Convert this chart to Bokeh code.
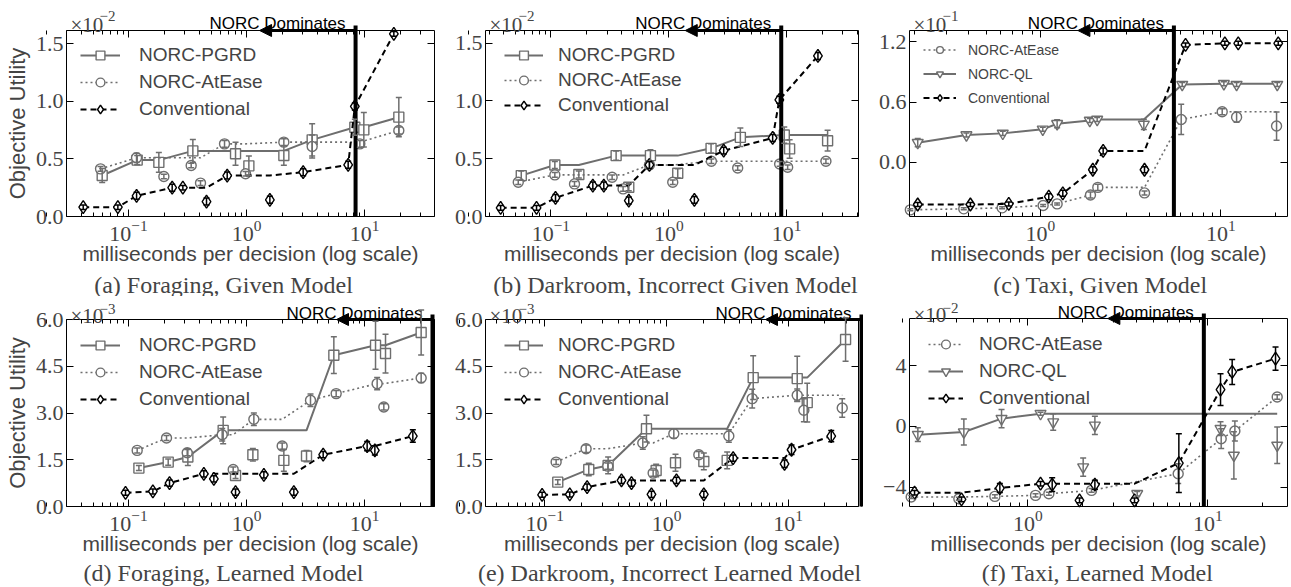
import numpy as np
from bokeh.plotting import figure
from bokeh.models import (LogAxis, LinearAxis, FixedTicker, Legend, LegendItem, Whisker, TeeHead,
                          ColumnDataSource, Arrow, NormalHead, Label, Range1d, CustomJSTickFormatter)
from bokeh.layouts import column, row
from bokeh.embed import file_html
from bokeh.resources import INLINE

# ---------------- tick values / labels ----------------
x_major_ticks = [0.1, 1, 10]
x_minor_ticks = [m * 10.0 ** e for e in range(-2, 2) for m in range(2, 10)]

a_yticks = [0.0, 0.5, 1.0, 1.5]
a_ylabels = ["0.0", "0.5", "1.0", "1.5"]
b_yticks = [0.0, 0.5, 1.0, 1.5]
b_ylabels = ["0.0", "0.5", "1.0", "1.5"]
c_yticks = [0.0, 0.6, 1.2]
c_ylabels = ["0.0", "0.6", "1.2"]
d_yticks = [0.0, 1.5, 3.0, 4.5, 6.0]
d_ylabels = ["0.0", "1.5", "3.0", "4.5", "6.0"]
e_yticks = [0.0, 1.5, 3.0, 4.5, 6.0]
e_ylabels = ["0.0", "1.5", "3.0", "4.5", "6.0"]
f_yticks = [-4, 0, 4]
f_ylabels = ["\u22124", "0", "4"]

# ---------------- (a) Foraging, Given Model  (x 10^-2) ----------------
a_pgrd_ms = [0.0598, 0.1184, 0.1807, 0.3509, 0.807, 1.047, 2.072, 3.601, 8.28, 9.87, 19.54]
a_pgrd_val = [0.356, 0.49, 0.47, 0.57, 0.545, 0.44, 0.53, 0.666, 0.776, 0.753, 0.863]
a_pgrd_err = [0.06, 0.04, 0.085, 0.10, 0.10, 0.085, 0.085, 0.14, 0.07, 0.15, 0.17]
a_atease_ms = [0.0579, 0.1169, 0.1993, 0.3396, 0.4074, 0.651, 0.981, 2.072, 3.601, 9.13, 19.54]
a_atease_val = [0.414, 0.51, 0.348, 0.443, 0.29, 0.631, 0.371, 0.646, 0.608, 0.631, 0.747]
a_atease_err = [0.02, 0.04, 0.02, 0.02, 0.02, 0.03, 0.02, 0.03, 0.10, 0.03, 0.03]
a_conv_ms = [0.0413, 0.0812, 0.117, 0.2344, 0.2887, 0.458, 0.686, 1.577, 3.021, 7.27, 8.28, 17.73]
a_conv_val = [0.081, 0.081, 0.18, 0.25, 0.25, 0.13, 0.356, 0.145, 0.385, 0.449, 0.956, 1.587]
a_conv_err = [0.02, 0.02, 0.03, 0.03, 0.02, 0.03, 0.03, 0.03, 0.03, 0.03, 0.03, 0.02]
a_dominates_ms = 8.4

# ---------------- (b) Darkroom, Incorrect Given Model  (x 10^-2) ----------------
b_pgrd_ms = [0.0561, 0.1081, 0.1727, 0.3578, 0.4581, 0.6993, 1.192, 2.285, 4.05, 9.55, 10.6, 22.26]
b_pgrd_val = [0.354, 0.446, 0.363, 0.527, 0.253, 0.527, 0.374, 0.59, 0.685, 0.705, 0.585, 0.656]
b_pgrd_err = [0.04, 0.03, 0.03, 0.04, 0.03, 0.05, 0.04, 0.04, 0.08, 0.07, 0.08, 0.09]
b_atease_ms = [0.0529, 0.1081, 0.1587, 0.331, 0.41, 0.6858, 1.081, 2.30, 3.844, 8.724, 10.2, 21.54]
b_atease_val = [0.297, 0.36, 0.282, 0.34, 0.239, 0.446, 0.297, 0.478, 0.42, 0.455, 0.426, 0.478]
b_atease_err = [0.02, 0.02, 0.02, 0.02, 0.02, 0.03, 0.02, 0.02, 0.02, 0.02, 0.02, 0.02]
b_conv_ms = [0.0375, 0.0756, 0.1095, 0.227, 0.2813, 0.4581, 0.6858, 1.65, 2.925, 7.61, 8.67, 18.43]
b_conv_val = [0.075, 0.075, 0.161, 0.268, 0.268, 0.138, 0.446, 0.144, 0.57, 0.68, 1.01, 1.39]
b_conv_err = [0.02, 0.02, 0.03, 0.03, 0.03, 0.03, 0.03, 0.03, 0.03, 0.03, 0.03, 0.03]
b_dominates_ms = 9.0

# ---------------- (c) Taxi, Given Model  (x 10^-1) ----------------
c_atease_ms = [0.190, 0.3757, 0.613, 1.0346, 1.237, 1.893, 2.079, 3.773, 6.026, 10.17, 12.22, 20.35]
c_atease_val = [-0.47, -0.46, -0.45, -0.427, -0.411, -0.322, -0.247, -0.302, 0.427, 0.503, 0.45, 0.362]
c_atease_err = [0.01, 0.01, 0.01, 0.01, 0.01, 0.03, 0.03, 0.02, 0.15, 0.03, 0.05, 0.14]
c_ql_ms = [0.2088, 0.3887, 0.6182, 1.030, 1.237, 1.877, 2.062, 3.741, 6.105, 10.39, 12.22, 20.53]
c_ql_val = [0.197, 0.273, 0.289, 0.329, 0.385, 0.417, 0.427, 0.378, 0.773, 0.782, 0.773, 0.773]
c_ql_err = [0.04, 0.02, 0.02, 0.02, 0.04, 0.02, 0.02, 0.05, 0.02, 0.02, 0.02, 0.02]
c_conv_ms = [0.2088, 0.409, 0.6674, 1.112, 1.33, 1.951, 2.226, 3.773, 6.37, 10.52, 12.48, 20.79]
c_conv_val = [-0.417, -0.417, -0.411, -0.339, -0.306, -0.072, 0.115, -0.072, 1.167, 1.183, 1.183, 1.183]
c_conv_err = [0.02, 0.02, 0.02, 0.03, 0.03, 0.03, 0.03, 0.03, 0.02, 0.02, 0.02, 0.02]
c_dominates_ms = 5.49

# ---------------- (d) Foraging, Learned Model  (x 10^-3) ----------------
d_pgrd_ms = [0.1224, 0.2169, 0.3183, 0.634, 0.807, 1.132, 2.072, 3.225, 5.497, 12.4, 15.07, 30.21]
d_pgrd_val = [1.232, 1.425, 1.586, 2.443, 0.996, 1.661, 1.479, 1.618, 4.854, 5.175, 4.907, 5.582]
d_pgrd_err = [0.08, 0.10, 0.27, 0.43, 0.10, 0.20, 0.35, 0.18, 0.59, 0.77, 0.62, 0.72]
d_atease_ms = [0.1184, 0.2099, 0.3142, 0.622, 0.7709, 1.154, 2.006, 3.486, 5.753, 12.8, 14.58, 30.21]
d_atease_val = [1.80, 2.197, 1.725, 2.304, 1.189, 2.797, 1.939, 3.407, 3.622, 3.943, 3.193, 4.125]
d_atease_err = [0.08, 0.08, 0.10, 0.20, 0.08, 0.20, 0.10, 0.20, 0.10, 0.20, 0.10, 0.15]
d_conv_ms = [0.0943, 0.1608, 0.2226, 0.4348, 0.5286, 0.807, 1.403, 2.518, 4.464, 10.53, 12.24, 25.68]
d_conv_val = [0.439, 0.482, 0.75, 1.05, 0.889, 0.461, 1.018, 0.461, 1.661, 1.939, 1.80, 2.261]
d_conv_err = [0.08, 0.08, 0.10, 0.10, 0.10, 0.10, 0.10, 0.10, 0.10, 0.15, 0.15, 0.20]
d_dominates_ms = 37.7

# ---------------- (e) Darkroom, Incorrect Learned Model  (x 10^-3) ----------------
e_pgrd_ms = [0.1279, 0.2299, 0.3316, 0.6849, 0.8222, 1.186, 2.027, 3.152, 5.157, 11.86, 14.33, 29.6]
e_pgrd_val = [0.782, 1.189, 1.318, 2.496, 1.157, 1.404, 1.446, 1.479, 4.136, 4.104, 3.332, 5.357]
e_pgrd_err = [0.08, 0.20, 0.27, 0.43, 0.20, 0.27, 0.27, 0.27, 0.70, 0.72, 0.62, 0.70]
e_atease_ms = [0.124, 0.2186, 0.3295, 0.6389, 0.777, 1.149, 1.844, 3.253, 5.06, 11.86, 13.45, 27.79]
e_atease_val = [1.425, 1.854, 1.296, 2.036, 1.071, 2.336, 1.661, 2.261, 3.461, 3.568, 3.086, 3.161]
e_atease_err = [0.08, 0.12, 0.10, 0.20, 0.10, 0.15, 0.10, 0.20, 0.30, 0.20, 0.37, 0.30]
e_conv_ms = [0.0951, 0.1605, 0.2229, 0.4269, 0.5159, 0.7528, 1.208, 2.027, 3.53, 9.33, 10.65, 22.57]
e_conv_val = [0.375, 0.386, 0.621, 0.836, 0.75, 0.386, 0.836, 0.386, 1.554, 1.371, 1.821, 2.261]
e_conv_err = [0.08, 0.08, 0.10, 0.10, 0.10, 0.10, 0.10, 0.10, 0.10, 0.12, 0.15, 0.18]
e_dominates_ms = 40.0

# ---------------- (f) Taxi, Learned Model  (x 10^-2) ----------------
f_atease_ms = [0.2248, 0.4136, 0.6557, 1.103, 1.308, 2.258, 6.842, 11.86, 14.13, 24.28]
f_atease_val = [-4.649, -4.759, -4.605, -4.539, -4.43, -4.21, -3.114, -0.811, -0.307, 1.93]
f_atease_err = [0.10, 0.10, 0.10, 0.10, 0.10, 0.12, 0.65, 0.65, 0.65, 0.15]
f_ql_ms = [0.2448, 0.441, 0.7142, 1.176, 1.383, 2.029, 2.357, 4.05, 11.76, 13.95, 24.28]
f_ql_val = [-0.548, -0.373, 0.504, 0.833, 0.285, -2.675, 0.066, -4.43, -0.154, -1.908, -1.25]
f_ql_err = [0.45, 0.85, 0.60, 0.10, 0.55, 0.60, 0.60, 0.15, 0.45, 1.55, 1.20]
f_conv_ms = [0.2347, 0.4279, 0.6988, 1.176, 1.365, 1.936, 2.357, 3.913, 6.9, 11.76, 13.65, 23.77]
f_conv_val = [-4.364, -4.803, -4.057, -3.772, -3.838, -4.868, -3.838, -4.868, -2.412, 2.412, 3.575, 4.452]
f_conv_err = [0.15, 0.15, 0.30, 0.15, 0.45, 0.15, 0.30, 0.15, 1.93, 1.05, 0.82, 0.77]
f_dominates_ms = 9.5

# ---------------- styles ----------------
SANS = "Liberation Sans"
SERIF = "Liberation Serif"
GRAY = "#6e6e6e"
STYLE = {
    "NORC-PGRD": dict(marker="square", color=GRAY, dash="solid", lw=2.0, size=10),
    "NORC-AtEase": dict(marker="circle", color=GRAY, dash="2 3", lw=1.6, size=10),
    "NORC-QL": dict(marker="inverted_triangle", color=GRAY, dash="solid", lw=2.0, size=11),
    "Conventional": dict(marker="diamond", color="#000000", dash="6 4", lw=2.0, size=13),
}
BLANK = "return ''"


def make_panel(series, box_x, box_y, geom, yticks, ylabels, exp_txt, dom_x, caption, cap_xy,
               leg, txt, ylabel=None):
    # geom: canvas width/height and the plot box (left, right, top, bottom) in canvas pixels
    W, H, L, R, T, B = geom
    x0, x1 = box_x
    y0, y1 = box_y
    lx0, lx1 = np.log10(x0), np.log10(x1)
    dpx = (lx1 - lx0) / (R - L)
    dpy = (y1 - y0) / (B - T)
    ext_x = (10 ** (lx0 - L * dpx), 10 ** (lx1 + (W - R) * dpx))
    ext_y = (y0 - (H - B) * dpy, y1 + T * dpy)

    p = figure(width=W, height=H, x_axis_type="log", x_axis_location=None, y_axis_location=None,
               x_range=Range1d(*ext_x), y_range=Range1d(*ext_y), min_border=0,
               output_backend="svg", toolbar_location=None,
               background_fill_color="white", border_fill_color="white")
    p.xgrid.visible = False
    p.ygrid.visible = False
    p.outline_line_color = None

    xt = FixedTicker(ticks=x_major_ticks, minor_ticks=x_minor_ticks)
    yt = FixedTicker(ticks=yticks)
    overrides = {t: s for t, s in zip(yticks, ylabels)}

    xb = LogAxis(ticker=xt, fixed_location=y0, bounds=(x0, x1),
                 major_label_text_font=SERIF, major_label_text_font_size="22px",
                 major_label_standoff=4,
                 axis_label="milliseconds per decision (log scale)", axis_label_text_font=SANS,
                 axis_label_text_font_size="21px", axis_label_text_font_style="normal",
                 axis_label_standoff=-2)
    xtop = LogAxis(ticker=xt, fixed_location=y1, bounds=(x0, x1),
                   formatter=CustomJSTickFormatter(code=BLANK),
                   major_label_text_font_size="1px", major_label_standoff=0)
    yl = LinearAxis(ticker=yt, fixed_location=x0, bounds=(y0, y1),
                    major_label_overrides=overrides, major_label_text_font=SERIF,
                    major_label_text_font_size="22px", major_label_standoff=3)
    if ylabel:
        yl.axis_label = ylabel
        yl.axis_label_text_font = SANS
        yl.axis_label_text_font_size = "22px"
        yl.axis_label_text_font_style = "normal"
        yl.axis_label_standoff = 3
    yrt = LinearAxis(ticker=yt, fixed_location=x1, bounds=(y0, y1),
                     formatter=CustomJSTickFormatter(code=BLANK),
                     major_label_text_font_size="1px", major_label_standoff=0)
    p.add_layout(xb, "below")
    p.add_layout(xtop, "above")
    p.add_layout(yl, "left")
    p.add_layout(yrt, "right")
    for ax in (xb, xtop, yl, yrt):
        ax.axis_line_color = "black"
        ax.axis_line_width = 1
        ax.major_tick_line_color = "black"
        ax.major_tick_in = 7
        ax.major_tick_out = 0
        ax.minor_tick_in = 4
        ax.minor_tick_out = 0
        ax.minor_tick_line_color = "black"
    yl.minor_tick_line_color = None
    yrt.minor_tick_line_color = None

    items = []
    for name, xs, ys, es in series:
        st = STYLE[name]
        xs = np.asarray(xs, float)
        ys = np.asarray(ys, float)
        es = np.asarray(es, float)
        order = np.argsort(xs)
        frontier = np.maximum.accumulate(ys[order])
        lr = p.line(xs[order], frontier, line_color=st["color"], line_width=st["lw"],
                    line_dash=st["dash"])
        sr = p.scatter(xs, ys, marker=st["marker"], size=st["size"], fill_color="white",
                       line_color=st["color"], line_width=1.4)
        src = ColumnDataSource(dict(x=xs, lo=ys - es, hi=ys + es))
        p.add_layout(Whisker(source=src, base="x", upper="hi", lower="lo",
                             line_color=st["color"], line_width=1.5, level="overlay",
                             upper_head=TeeHead(size=6, line_color=st["color"], line_width=1.5),
                             lower_head=TeeHead(size=6, line_color=st["color"], line_width=1.5)))
        items.append(LegendItem(label=name, renderers=[lr, sr]))

    n = len(items)
    leg_h = n * leg["row"] + (n - 1) * leg["spacing"]
    legend = Legend(items=items, location=(L + leg["dx"], H - (T + leg["dy"]) - leg_h),
                    label_text_font=SANS, label_text_font_size=leg["font"],
                    glyph_width=leg["gw"], glyph_height=leg["row"], label_height=leg["row"],
                    spacing=leg["spacing"], margin=0, padding=0, label_standoff=leg["standoff"],
                    background_fill_alpha=0, border_line_alpha=0)
    p.add_layout(legend)

    # thick vertical "dominance" line and arrow along the top spine
    p.add_layout(Arrow(end=None, x_start=dom_x, y_start=y0, x_end=dom_x, y_end=y1 + 5 * dpy,
                       line_width=4, line_color="black"))
    x_head = dom_x * 10 ** (-96 * dpx)
    p.add_layout(Arrow(end=NormalHead(size=12, fill_color="black", line_color="black"),
                       x_start=dom_x, y_start=y1, x_end=x_head, y_end=y1,
                       line_width=3, line_color="black"))
    p.add_layout(Label(x=dom_x, x_units="data", y=H - T + txt["norc"], y_units="screen",
                       text="NORC Dominates", text_align="right", text_baseline="alphabetic",
                       x_offset=-10, text_font=SANS, text_font_size="17px", text_color="black"))

    # multiplier  x10^k
    p.add_layout(Label(x=L + 4, y=H - T + txt["mul"], x_units="screen", y_units="screen",
                       text="\u00d710", text_font=SERIF, text_font_size="21px",
                       text_baseline="alphabetic"))
    p.add_layout(Label(x=L + 33, y=H - T + txt["sup"], x_units="screen", y_units="screen",
                       text=exp_txt, text_font=SERIF, text_font_size="15px",
                       text_baseline="alphabetic"))

    # caption
    p.add_layout(Label(x=cap_xy[0], y=H - cap_xy[1], x_units="screen", y_units="screen",
                       text=caption, text_align="center", text_baseline="middle",
                       text_font=SERIF, text_font_size="24px"))
    return p


LEG_A = dict(font="19px", gw=40, row=22, spacing=5, dx=14, dy=14, standoff=19)
LEG_B = dict(font="19px", gw=39, row=22, spacing=3, dx=19, dy=14, standoff=15)
LEG_C = dict(font="14px", gw=33, row=17, spacing=7, dx=14, dy=11, standoff=12)
LEG_D = dict(font="19px", gw=40, row=22, spacing=5, dx=14, dy=15, standoff=19)
LEG_E = dict(font="19px", gw=39, row=22, spacing=5, dx=19, dy=15, standoff=15)
LEG_F = dict(font="19px", gw=35, row=22, spacing=5, dx=19, dy=15, standoff=16)
TXT_TOP = dict(norc=7, mul=6, sup=15)
TXT_BOT = dict(norc=6, mul=4, sup=11)

pa = make_panel([("NORC-PGRD", a_pgrd_ms, a_pgrd_val, a_pgrd_err),
                 ("NORC-AtEase", a_atease_ms, a_atease_val, a_atease_err),
                 ("Conventional", a_conv_ms, a_conv_val, a_conv_err)],
                (0.0298, 39.2), (0.0, 1.616), (435, 296, 66, 434, 30, 216),
                a_yticks, a_ylabels, "\u22122", a_dominates_ms,
                "(a) Foraging, Given Model", (223, 284), LEG_A, TXT_TOP,
                ylabel="Objective Utility")
pb = make_panel([("NORC-PGRD", b_pgrd_ms, b_pgrd_val, b_pgrd_err),
                 ("NORC-AtEase", b_atease_ms, b_atease_val, b_atease_err),
                 ("Conventional", b_conv_ms, b_conv_val, b_conv_err)],
                (0.0279, 40.7), (0.0, 1.61), (428, 296, 50, 423, 30, 216),
                b_yticks, b_ylabels, "\u22122", b_dominates_ms,
                "(b) Darkroom, Incorrect Given Model", (240, 284), LEG_B, TXT_TOP)
pc = make_panel([("NORC-AtEase", c_atease_ms, c_atease_val, c_atease_err),
                 ("NORC-QL", c_ql_ms, c_ql_val, c_ql_err),
                 ("Conventional", c_conv_ms, c_conv_val, c_conv_err)],
                (0.188, 23.4), (-0.536, 1.31), (427, 296, 46, 424, 30, 216),
                c_yticks, c_ylabels, "\u22121", c_dominates_ms,
                "(c) Taxi, Given Model", (237, 284), LEG_C, TXT_TOP)
pd_ = make_panel([("NORC-PGRD", d_pgrd_ms, d_pgrd_val, d_pgrd_err),
                  ("NORC-AtEase", d_atease_ms, d_atease_val, d_atease_err),
                  ("Conventional", d_conv_ms, d_conv_val, d_conv_err)],
                 (0.0298, 39.2), (0.0, 6.0), (435, 290, 66, 434, 23, 210),
                 d_yticks, d_ylabels, "\u22123", d_dominates_ms,
                 "(d) Foraging, Learned Model", (223, 276), LEG_D, TXT_BOT,
                 ylabel="Objective Utility")
pe = make_panel([("NORC-PGRD", e_pgrd_ms, e_pgrd_val, e_pgrd_err),
                 ("NORC-AtEase", e_atease_ms, e_atease_val, e_atease_err),
                 ("Conventional", e_conv_ms, e_conv_val, e_conv_err)],
                (0.0326, 37.8), (0.0, 6.0), (428, 290, 50, 423, 23, 210),
                e_yticks, e_ylabels, "\u22123", e_dominates_ms,
                "(e) Darkroom, Incorrect Learned Model", (234, 276), LEG_E, TXT_BOT)
pf = make_panel([("NORC-AtEase", f_atease_ms, f_atease_val, f_atease_err),
                 ("NORC-QL", f_ql_ms, f_ql_val, f_ql_err),
                 ("Conventional", f_conv_ms, f_conv_val, f_conv_err)],
                (0.22, 27.7), (-5.27, 7.09), (427, 290, 46, 424, 22, 210),
                f_yticks, f_ylabels, "\u22122", f_dominates_ms,
                "(f) Taxi, Learned Model", (234, 276), LEG_F, TXT_BOT)

layout = column(row(pa, pb, pc), row(pd_, pe, pf))
open("out.html", "w").write(file_html(layout, INLINE))
